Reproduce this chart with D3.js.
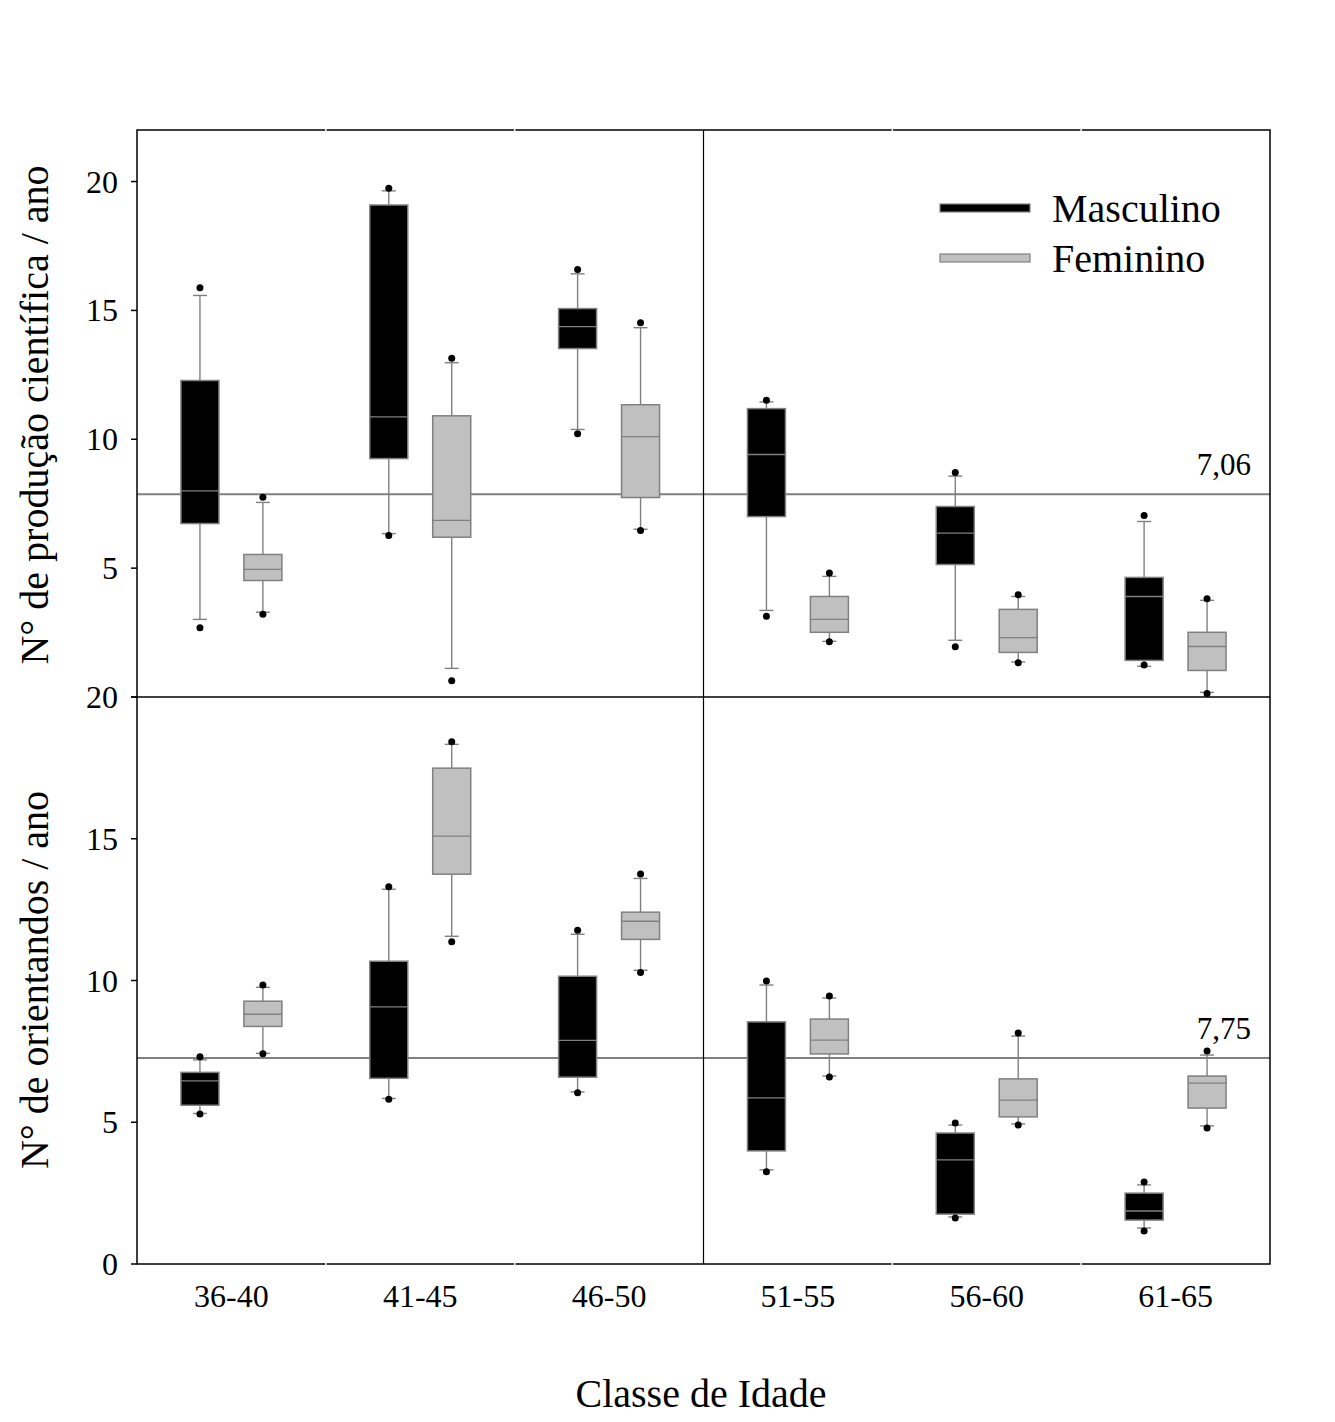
<!DOCTYPE html>
<html>
<head>
<meta charset="utf-8">
<script src="https://cdn.jsdelivr.net/npm/d3@7"></script>
<style>
  html, body { margin: 0; padding: 0; background: #fff; }
  svg { display: block; }
  text { font-family: "Liberation Serif", "Times New Roman", serif; fill: #000; }
</style>
</head>
<body>
<svg id="chart" width="1335" height="1422"></svg>
<script>
// ---------------- DATA ----------------
const categories = ["36-40", "41-45", "46-50", "51-55", "56-60", "61-65"];
const groups = ["Masculino", "Feminino"];
// each entry: [lowDot, lowCap, q1, median, q3, highCap, highDot]
const prodMasc = [
  [2.69, 3.01, 6.73, 8.00, 12.28, 15.58, 15.88],
  [6.27, 6.34, 9.25, 10.87, 19.09, 19.64, 19.74],
  [10.21, 10.38, 13.52, 14.37, 15.07, 16.42, 16.59],
  [3.13, 3.36, 7.00, 9.41, 11.19, 11.45, 11.51],
  [1.95, 2.20, 5.14, 6.36, 7.39, 8.57, 8.71],
  [1.24, 1.19, 1.42, 3.90, 4.64, 6.81, 7.04]
];
const prodFem = [
  [3.21, 3.29, 4.52, 4.95, 5.53, 7.55, 7.75],
  [0.63, 1.11, 6.20, 6.85, 10.91, 12.97, 13.14],
  [6.46, 6.51, 7.74, 10.10, 11.34, 14.33, 14.52],
  [2.14, 2.16, 2.51, 3.01, 3.90, 4.68, 4.81],
  [1.33, 1.36, 1.73, 2.30, 3.40, 3.90, 3.97],
  [0.14, 0.18, 1.03, 1.96, 2.51, 3.75, 3.81]
];
const orientMasc = [
  [5.29, 5.31, 5.60, 6.46, 6.76, 7.20, 7.31],
  [5.81, 5.84, 6.55, 9.07, 10.68, 13.22, 13.31],
  [6.04, 6.07, 6.59, 7.89, 10.15, 11.63, 11.77],
  [3.25, 3.32, 3.99, 5.86, 8.54, 9.84, 9.98],
  [1.62, 1.66, 1.76, 3.67, 4.62, 4.90, 4.97],
  [1.16, 1.27, 1.55, 1.87, 2.50, 2.79, 2.89]
];
const orientFem = [
  [7.42, 7.43, 8.38, 8.81, 9.27, 9.76, 9.84],
  [11.37, 11.56, 13.75, 15.09, 17.49, 18.33, 18.42],
  [10.28, 10.36, 11.45, 12.09, 12.41, 13.60, 13.76],
  [6.60, 6.63, 7.41, 7.90, 8.64, 9.38, 9.45],
  [4.90, 4.94, 5.19, 5.78, 6.53, 8.04, 8.15],
  [4.80, 4.87, 5.50, 6.38, 6.63, 7.37, 7.51]
];
const prodTicks = [5, 10, 15, 20];
const orientTicks = [0, 5, 10, 15, 20];
const prodRef = 7.87, prodRefLabel = "7,06";
const orientRef = 7.27, orientRefLabel = "7,75";
const yTitles = ["N° de produção científica / ano", "N° de orientandos / ano"];
const xTitle = "Classe de Idade";

// ---------------- LAYOUT ----------------
const svg = d3.select("#chart");
const L = 137, R = 1270;
const topP = { y0: 130, y1: 697, max: 22, titleY: 415 };
const botP = { y0: 697, y1: 1264, max: 20, titleY: 980 };
const fills = { Masculino: "#000000", Feminino: "#c0c0c0" };
const gray = "#808080";

const x = d3.scaleBand().domain(categories).range([L, R]).paddingInner(0).paddingOuter(0);
const xg = d3.scalePoint().domain(groups).range([0, x.bandwidth()]).padding(1);
const boxW = 38, capW = 14;

function drawPanel(p, series, ticks, ref, refLabel, title) {
  const y = d3.scaleLinear().domain([0, p.max]).range([p.y1, p.y0]);
  const g = svg.append("g");

  // reference line
  g.append("line").attr("x1", L).attr("x2", R)
    .attr("y1", y(ref)).attr("y2", y(ref))
    .attr("stroke", gray).attr("stroke-width", 2);
  g.append("text").attr("x", 1251).attr("y", y(ref) - 19)
    .attr("text-anchor", "end").attr("font-size", 31).text(refLabel);

  groups.forEach((grp, gi) => {
    const data = series[gi];
    categories.forEach((cat, ci) => {
      const d = data[ci];
      const cx = x(cat) + xg(grp);
      const bg = g.append("g");
      // whiskers
      bg.append("line").attr("x1", cx).attr("x2", cx).attr("y1", y(d[1])).attr("y2", y(d[2]))
        .attr("stroke", gray).attr("stroke-width", 1.4);
      bg.append("line").attr("x1", cx).attr("x2", cx).attr("y1", y(d[4])).attr("y2", y(d[5]))
        .attr("stroke", gray).attr("stroke-width", 1.4);
      [d[1], d[5]].forEach(v => {
        bg.append("line").attr("x1", cx - capW / 2).attr("x2", cx + capW / 2)
          .attr("y1", y(v)).attr("y2", y(v)).attr("stroke", gray).attr("stroke-width", 1.4);
      });
      // box
      bg.append("rect").attr("x", cx - boxW / 2).attr("width", boxW)
        .attr("y", y(d[4])).attr("height", y(d[2]) - y(d[4]))
        .attr("fill", fills[grp]).attr("stroke", gray).attr("stroke-width", 1.5);
      // median
      bg.append("line").attr("x1", cx - boxW / 2).attr("x2", cx + boxW / 2)
        .attr("y1", y(d[3])).attr("y2", y(d[3])).attr("stroke", gray).attr("stroke-width", 1.3);
      // outlier dots
      [d[0], d[6]].forEach(v => {
        bg.append("circle").attr("cx", cx).attr("cy", y(v)).attr("r", 3.5).attr("fill", "#000");
      });
    });
  });

  // y ticks
  ticks.forEach(t => {
    g.append("line").attr("x1", L - 6).attr("x2", L).attr("y1", y(t)).attr("y2", y(t))
      .attr("stroke", "#000").attr("stroke-width", 1.5);
    g.append("text").attr("x", 118).attr("y", y(t) + 11)
      .attr("text-anchor", "end").attr("font-size", 32).text(t);
  });
  if (ticks[0] !== 0) {
    g.append("line").attr("x1", L - 6).attr("x2", L).attr("y1", y(0)).attr("y2", y(0))
      .attr("stroke", "#000").attr("stroke-width", 1.5);
  }

  // y title
  g.append("text").attr("transform", `translate(48,${p.titleY}) rotate(-90)`)
    .attr("text-anchor", "middle").attr("font-size", 40).text(title);
}

drawPanel(topP, [prodMasc, prodFem], prodTicks, prodRef, prodRefLabel, yTitles[0]);
drawPanel(botP, [orientMasc, orientFem], orientTicks, orientRef, orientRefLabel, yTitles[1]);

// frame and dividers
svg.append("rect").attr("x", L).attr("y", topP.y0).attr("width", R - L).attr("height", botP.y1 - topP.y0)
  .attr("fill", "none").attr("stroke", "#000").attr("stroke-width", 1.5);
svg.append("line").attr("x1", L).attr("x2", R).attr("y1", 697).attr("y2", 697)
  .attr("stroke", "#000").attr("stroke-width", 1.5);
const midX = x(categories[3]);
svg.append("line").attr("x1", midX).attr("x2", midX).attr("y1", topP.y0).attr("y2", botP.y1)
  .attr("stroke", "#000").attr("stroke-width", 1.2);
// small white gaps on frame at category boundaries
[1, 2, 4, 5].forEach(i => {
  const bx = x(categories[i]);
  [topP.y0, botP.y1].forEach(yy => {
    svg.append("line").attr("x1", bx).attr("x2", bx).attr("y1", yy - 2).attr("y2", yy + 2)
      .attr("stroke", "#fff").attr("stroke-width", 1.5);
  });
});

// x labels
categories.forEach(c => {
  svg.append("text").attr("x", x(c) + x.bandwidth() / 2).attr("y", 1307)
    .attr("text-anchor", "middle").attr("font-size", 32).text(c);
});
svg.append("text").attr("x", 701).attr("y", 1407).attr("text-anchor", "middle")
  .attr("font-size", 40).text(xTitle);

// legend
const leg = svg.append("g");
groups.forEach((grp, i) => {
  const ly = 208 + i * 50;
  leg.append("rect").attr("x", 940).attr("y", ly - 4).attr("width", 90).attr("height", 8)
    .attr("fill", fills[grp]).attr("stroke", gray).attr("stroke-width", 1.2);
  leg.append("text").attr("x", 1052).attr("y", ly + 14).attr("font-size", 40).text(grp);
});
</script>
</body>
</html>
